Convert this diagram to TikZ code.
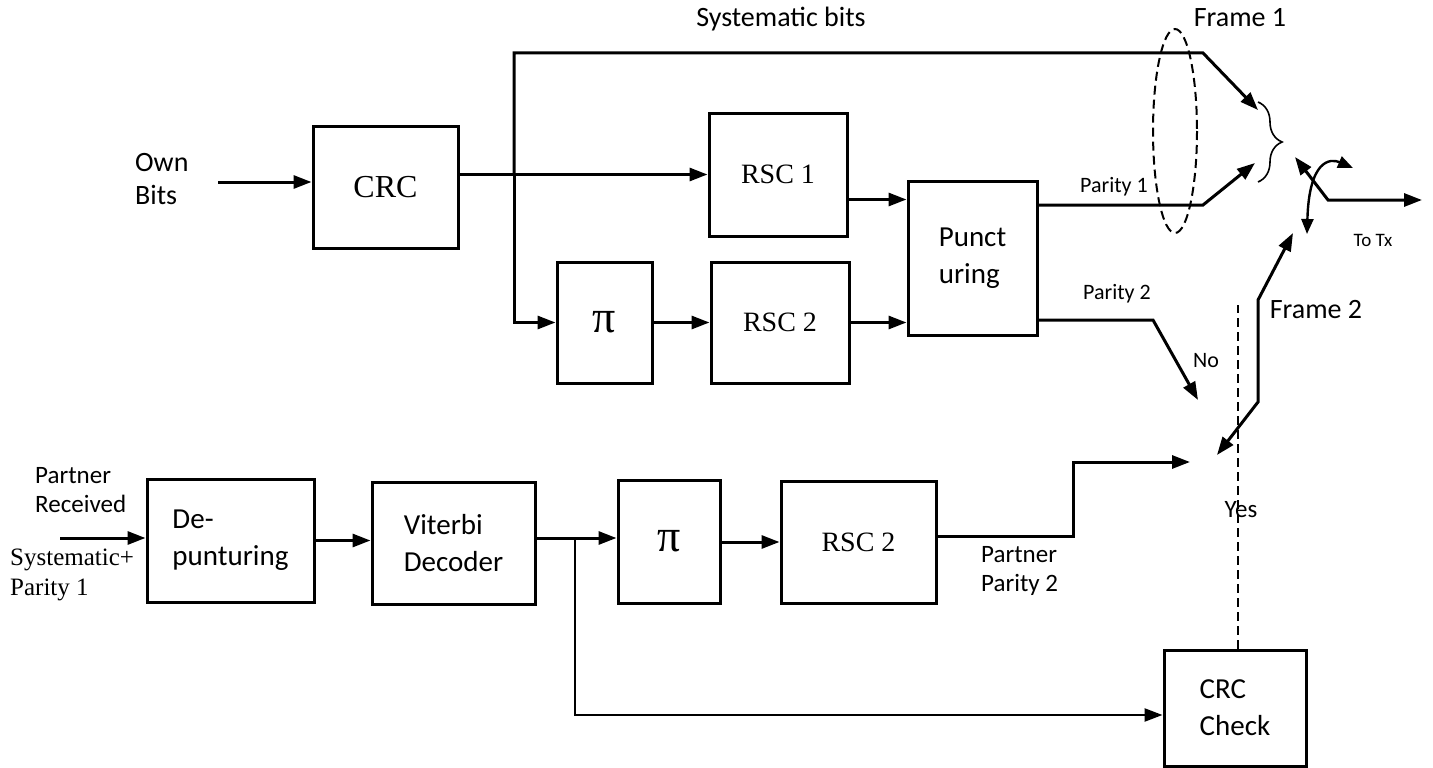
\documentclass[tikz,border=0pt]{standalone}
\usepackage{fontspec}
\setmainfont{Carlito}
\newfontfamily\camb{Liberation Serif}
\usepackage{tikz}
\usetikzlibrary{arrows.meta, positioning, decorations.pathreplacing}

\newcommand{\boxfont}{\fontsize{29}{37}\selectfont}
\newcommand{\lblfont}{\fontsize{28}{33}\selectfont}
\newcommand{\midfont}{\fontsize{25}{29}\selectfont}
\newcommand{\smallfont}{\fontsize{22}{26}\selectfont}

\begin{document}
\begin{tikzpicture}[
  x=1pt, y=-1pt,
  box/.style={rectangle, draw, line width=3pt, inner sep=0pt, align=left, font=\boxfont},
  serBox/.style={box, font=\camb\fontsize{28}{32}\selectfont},
  piBox/.style={box, font=\camb\fontsize{46}{50}\selectfont},
  lbl/.style={inner sep=0pt, align=left, font=\lblfont},
  midLbl/.style={lbl, font=\midfont},
  serLbl/.style={lbl, font=\camb\fontsize{25}{30}\selectfont},
  smallLbl/.style={lbl, font=\smallfont},
  arr/.style={-{Triangle[length=18pt, width=13pt]}, line width=3pt},
  twoArr/.style={{Triangle[length=18pt, width=13pt]}-{Triangle[length=18pt, width=13pt]}, line width=3pt},
  line/.style={line width=3pt},
  dashline/.style={line width=2pt, dash pattern=on 9pt off 5pt}
]
\useasboundingbox (0,0) rectangle (1433,768);

% encoder, own bits
\node[serBox, minimum width=145pt, minimum height=122pt, font=\camb\fontsize{32}{36}\selectfont] (crc) at (385.5,187) {CRC};
\node[serBox, minimum width=138pt, minimum height=123pt] (rscA) at (778,174.5) {RSC 1};
\node[piBox, minimum width=95pt, minimum height=121pt] (piA) at (604.5,322.5) {\raisebox{-6pt}{π}};
\node[serBox, minimum width=138pt, minimum height=121pt] (rscB) at (780,322.5) {RSC 2};
\node[box, minimum width=129pt, minimum height=154pt] (punct) at (972.5,258) {Punct\\uring};

% partner branch
\node[box, minimum width=167pt, minimum height=123pt] (depunct) at (230.5,540.5) {De-\\punturing};
\node[box, minimum width=163pt, minimum height=122pt] (viterbi) at (453.5,543) {Viterbi\\Decoder};
\node[piBox, minimum width=102pt, minimum height=123pt] (piB) at (669,541.5) {\raisebox{-6pt}{π}};
\node[serBox, minimum width=155pt, minimum height=122pt] (rscC) at (858.5,542) {RSC 2};
\node[box, minimum width=142pt, minimum height=116pt] (crcCheck) at (1235,708) {CRC\\Check};

% labels
\node[lbl, anchor=west] (ownLbl) at (135,179) {Own\\Bits};
\node[lbl] (sysLbl) at (781,19) {Systematic bits};
\node[lbl] (frameA) at (1240,18) {Frame 1};
\node[lbl] (frameB) at (1316,310) {Frame 2};
\node[smallLbl] (parA) at (1114,187) {Parity 1};
\node[smallLbl] (parB) at (1117,294) {Parity 2};
\node[smallLbl] (noLbl) at (1206,361) {No};
\node[midLbl] (yesLbl) at (1241,510) {Yes};
\node[smallLbl, font=\fontsize{19}{22}\selectfont] (txLbl) at (1373,240) {To Tx};
\node[midLbl, anchor=west] (rcvLbl) at (35,490) {Partner\\Received};
\node[serLbl, anchor=west] (sysParLbl) at (10,575) {Systematic+\\Parity 1};
\node[midLbl, anchor=west] (pparLbl) at (981,571) {Partner\\Parity 2};

% points of the switch
\coordinate (ownIn) at (218,182);
\coordinate (jA) at (514,174);
\coordinate (sysTip) at (1258,110);
\coordinate (parTip) at (1255,163);
\coordinate (noTip) at (1198,400);
\coordinate (ppTip) at (1190,462);
\coordinate (yesTip) at (1217,455);
\coordinate (fTip) at (1293,233);
\coordinate (swTip) at (1295,157);
\coordinate (swKnee) at (1328,200);
\coordinate (txTip) at (1422,200);
\coordinate (rcvIn) at (60,538);
\coordinate (jB) at (575,538);

% connectors
\draw[arr] (ownIn) -- (crc.west |- ownIn);
\draw[arr] (crc.east |- rscA) -- (rscA.west);
\draw[arr] (jA) |- (1203,53) -- (sysTip);
\draw[arr] (jA) |- (piA.west);
\draw[arr] (piA) -- (rscB);
\draw[arr] ([yshift=-25pt]rscA.east) -- ([yshift=-25pt]rscA.east -| punct.west);
\draw[arr] (rscB.east) -- (rscB.east -| punct.west);
\draw[arr] ([yshift=53pt]punct.east) -- (1203,205) -- (parTip);
\draw[arr] ([yshift=-62pt]punct.east) -- (1153,320) -- (noTip);
\draw[arr] ([yshift=6pt]rscC.east) -- (1073,536) -- (1073,462) -- (ppTip);
\draw[twoArr] (yesTip) -- (1258,402) -- (1258,300) -- (fTip);
\draw[twoArr] (swTip) -- (swKnee) -- (txTip);
\draw[{Triangle[length=15pt, width=12pt]}-{Triangle[length=15pt, width=12pt]}, line width=2.4pt]
  (1307,234) .. controls (1309,160) and (1330,158) .. (1353,168);
\draw[arr] (rcvIn) -- (depunct.west |- rcvIn);
\draw[arr] (depunct.east) -- (depunct.east -| viterbi.west);
\draw[arr] (viterbi.east |- jB) -- (piB.west |- jB);
\draw[arr] (piB.east |- rscC.west) -- (rscC.west);
\draw[arr, line width=2.4pt] (jB) |- ([yshift=-7pt]crcCheck.west);
\draw[dashline] ([xshift=3pt]crcCheck.north) -- (1238,305);

% frame 1 marker
\draw[dashline] (1175,131) ellipse [x radius=22, y radius=102];
\draw[line width=1.6pt, decorate, decoration={brace, amplitude=24pt}] (1258,102) -- (1258,182);
\end{tikzpicture}
\end{document}
